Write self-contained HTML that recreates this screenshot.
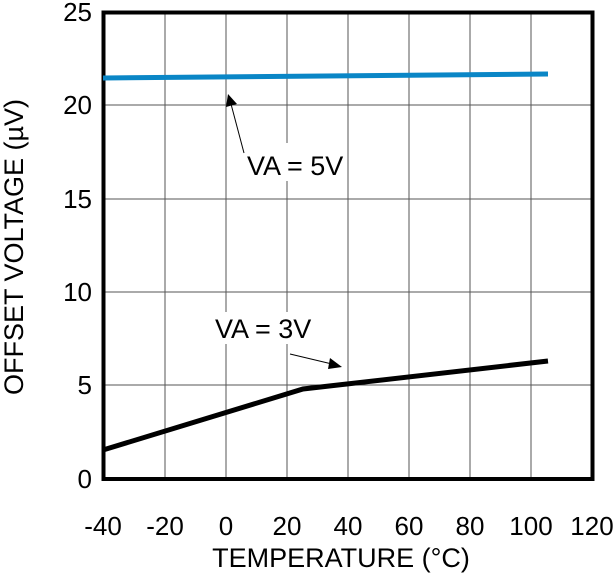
<!DOCTYPE html>
<html><head><style>body{margin:0;background:#fff}</style></head><body>
<svg width="614" height="573" xmlns="http://www.w3.org/2000/svg" font-family="Liberation Sans, Arial, sans-serif">
<g stroke="#555" stroke-width="1">
<line x1="165" y1="12" x2="165" y2="479"/><line x1="226" y1="12" x2="226" y2="479"/>
<line x1="287" y1="12" x2="287" y2="479"/><line x1="348" y1="12" x2="348" y2="479"/>
<line x1="409" y1="12" x2="409" y2="479"/><line x1="470" y1="12" x2="470" y2="479"/>
<line x1="531" y1="12" x2="531" y2="479"/>
<line x1="103" y1="105" x2="592" y2="105"/><line x1="103" y1="199" x2="592" y2="199"/>
<line x1="103" y1="292" x2="592" y2="292"/><line x1="103" y1="385" x2="592" y2="385"/>
</g>
<rect x="245" y="143" width="102" height="38" fill="#fff"/>
<rect x="212" y="312" width="100" height="32" fill="#fff"/>
<rect x="103.5" y="12.5" width="489" height="466.5" fill="none" stroke="#000" stroke-width="4"/>
<polyline points="103,78 548,74" fill="none" stroke="#0a86c6" stroke-width="5"/>
<polyline points="103,450 303,389 548,361" fill="none" stroke="#000" stroke-width="5"/>
<line x1="244" y1="153" x2="231" y2="104" stroke="#000" stroke-width="1"/>
<polygon points="228,94 237,104 226,107" fill="#000"/>
<line x1="290" y1="354" x2="332" y2="364" stroke="#000" stroke-width="1"/>
<polygon points="342,367 330,358 328,369" fill="#000"/>
<g font-size="27" fill="#000">
<text x="247" y="175">VA = 5V</text>
<text x="215" y="338">VA = 3V</text>
</g>
<g font-size="26" text-anchor="end">
<text x="92" y="21">25</text><text x="92" y="114">20</text><text x="92" y="208">15</text>
<text x="92" y="301">10</text><text x="92" y="394">5</text><text x="92" y="488">0</text>
</g>
<g font-size="26" text-anchor="middle">
<text x="103" y="535">-40</text><text x="165" y="535">-20</text><text x="226" y="535">0</text>
<text x="287" y="535">20</text><text x="348" y="535">40</text><text x="409" y="535">60</text>
<text x="470" y="535">80</text><text x="531" y="535">100</text><text x="592" y="535">120</text>
</g>
<g font-size="27" text-anchor="middle">
<text x="341" y="567">TEMPERATURE (°C)</text>
<text transform="translate(23,247) rotate(-90)">OFFSET VOLTAGE (µV)</text>
</g>
</svg>
</body></html>
